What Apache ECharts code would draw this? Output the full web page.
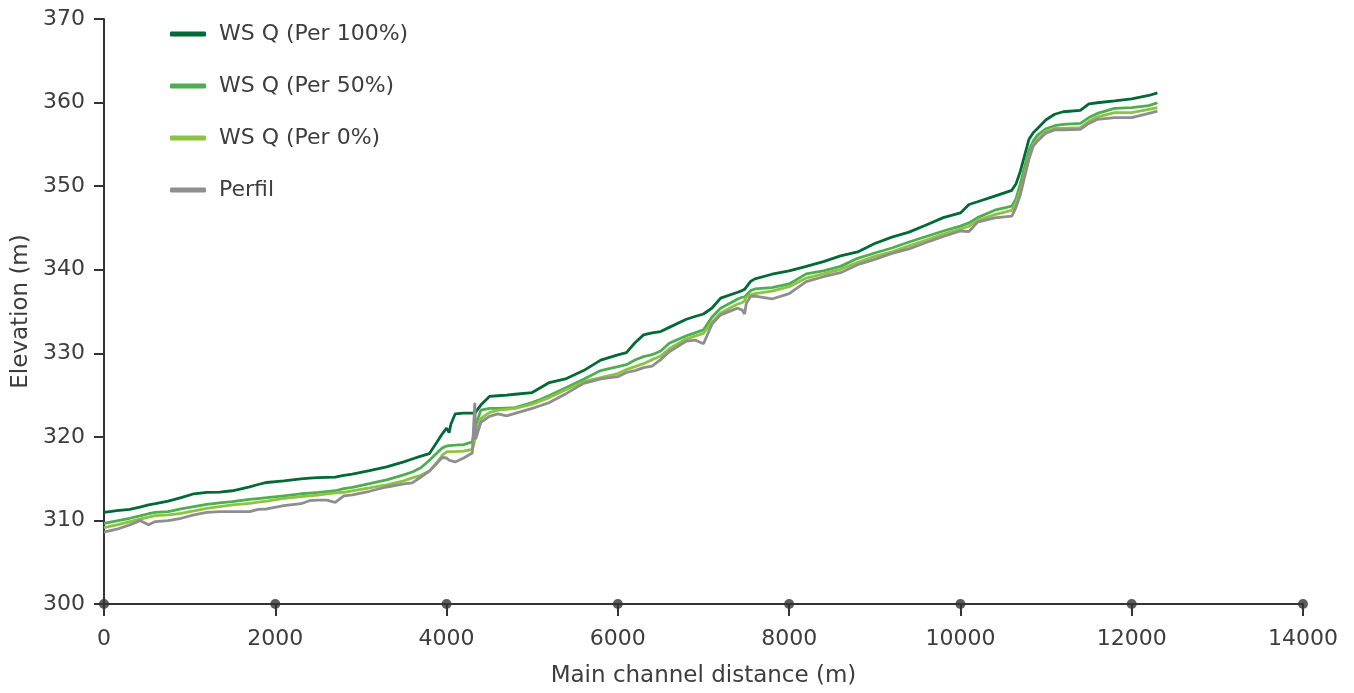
<!DOCTYPE html>
<html>
<head>
<meta charset="utf-8">
<title>Water surface profiles</title>
<script src="https://cdn.jsdelivr.net/npm/echarts@6/dist/echarts.min.js"></script>
<style>
  html, body { margin: 0; padding: 0; background: #ffffff; overflow: hidden; }
  #chart { width: 1354px; height: 693px; }
</style>
</head>
<body>
<div id="chart"></div>
<script>
// Distance along the main channel (m)
const distance = [0, 150, 300, 420, 520, 600, 750, 900, 1050, 1200,
  1350, 1500, 1700, 1800, 1900, 2100, 2300, 2400, 2500, 2600,
  2700, 2800, 2900, 3100, 3300, 3500, 3600, 3700, 3800, 3900,
  3950, 4000, 4030, 4050, 4100, 4200, 4300, 4320, 4330, 4340,
  4400, 4500, 4600, 4700, 4800, 5000, 5100, 5200, 5400, 5600,
  5800, 6000, 6100, 6200, 6300, 6400, 6500, 6600, 6800, 6900,
  7000, 7100, 7200, 7400, 7450, 7480, 7500, 7550, 7600, 7800,
  8000, 8200, 8400, 8600, 8800, 9000, 9200, 9400, 9600, 9800,
  10000, 10100, 10200, 10400, 10600, 10650, 10700, 10800, 10850, 10900,
  11000, 11100, 11200, 11400, 11500, 11600, 11800, 12000, 12200, 12300];

// Water surface elevation, Q per 100% (m)
const wsPer100 = [310.97, 311.17, 311.33, 311.6, 311.85, 312.0, 312.32, 312.72, 313.19, 313.35,
  313.39, 313.55, 314.02, 314.3, 314.54, 314.74, 314.97, 315.05, 315.13, 315.16,
  315.18, 315.4, 315.55, 315.95, 316.4, 317.0, 317.35, 317.7, 318.0, 319.57,
  320.36, 321.04, 320.5, 321.5, 322.74, 322.85, 322.85, 322.85, 322.85, 322.9,
  323.8, 324.84, 324.92, 325.0, 325.1, 325.3, 325.9, 326.5, 326.98, 327.93,
  329.18, 329.8, 330.07, 331.26, 332.2, 332.45, 332.6, 333.1, 334.07, 334.4,
  334.7, 335.42, 336.6, 337.3, 337.5, 337.65, 337.8, 338.6, 338.9, 339.46,
  339.87, 340.4, 340.97, 341.66, 342.13, 343.14, 343.9, 344.5, 345.35, 346.23,
  346.8, 347.8, 348.13, 348.8, 349.5, 350.3, 351.8, 355.6, 356.4, 356.9,
  357.94, 358.6, 358.9, 359.07, 359.84, 359.98, 360.2, 360.43, 360.85, 361.17];

// Water surface elevation, Q per 50% (m)
const wsPer50 = [309.66, 309.95, 310.26, 310.55, 310.8, 310.97, 311.05, 311.37, 311.65, 311.92,
  312.09, 312.24, 312.52, 312.62, 312.72, 312.95, 313.19, 313.27, 313.35, 313.45,
  313.55, 313.8, 313.96, 314.4, 314.86, 315.45, 315.8, 316.3, 317.2, 318.2,
  318.66, 318.9, 318.95, 318.97, 319.0, 319.08, 319.4, 320.4, 320.9, 321.4,
  323.2, 323.4, 323.4, 323.45, 323.5, 324.1, 324.5, 324.96, 325.9, 326.9,
  327.93, 328.4, 328.64, 329.2, 329.6, 329.83, 330.27, 331.2, 332.1, 332.45,
  332.8, 334.35, 335.4, 336.5, 336.7, 336.75, 336.8, 337.5, 337.7, 337.85,
  338.3, 339.5, 339.87, 340.4, 341.36, 342.0, 342.6, 343.32, 343.97, 344.63,
  345.22, 345.6, 346.23, 347.12, 347.6, 348.5, 350.3, 354.3, 355.38, 356.1,
  356.87, 357.23, 357.4, 357.5, 358.2, 358.7, 359.3, 359.4, 359.63, 359.98];

// Water surface elevation, Q per 0% (m)
const wsPer0 = [309.15, 309.47, 309.86, 310.15, 310.4, 310.58, 310.66, 310.85, 311.14, 311.45,
  311.65, 311.85, 312.04, 312.2, 312.32, 312.64, 312.84, 312.94, 313.04, 313.18,
  313.31, 313.37, 313.55, 313.9, 314.26, 314.74, 315.1, 315.4, 315.9, 317.1,
  317.8, 318.2, 318.22, 318.23, 318.24, 318.3, 318.5, 319.1, 319.85, 320.4,
  322.2, 322.9, 323.2, 323.3, 323.4, 323.9, 324.3, 324.7, 325.67, 326.6,
  327.1, 327.57, 328.05, 328.4, 328.76, 329.24, 329.68, 330.54, 331.73, 332.05,
  332.39, 333.75, 334.82, 335.9, 336.05, 336.3, 336.7, 337.0, 337.14, 337.44,
  337.97, 339.0, 339.5, 340.05, 340.88, 341.6, 342.13, 342.85, 343.56, 344.25,
  344.87, 345.2, 345.9, 346.6, 347.1, 348.0, 349.5, 353.5, 355.0, 355.6,
  356.6, 356.9, 356.9, 357.0, 357.76, 358.3, 358.8, 358.8, 359.2, 359.39];

// Channel bed profile (m)
const perfil = [308.59, 308.95, 309.47, 309.98, 309.47, 309.86, 309.98, 310.26, 310.66, 310.97,
  311.05, 311.05, 311.05, 311.33, 311.37, 311.77, 312.0, 312.36, 312.44, 312.44,
  312.16, 312.95, 313.07, 313.49, 314.0, 314.38, 314.5, 315.2, 315.9, 317.0,
  317.53, 317.47, 317.2, 317.0, 317.0, 317.47, 318.06, 318.2, 324.07, 319.73,
  321.75, 322.46, 322.76, 322.52, 322.8, 323.4, 323.75, 324.1, 325.2, 326.4,
  326.95, 327.2, 327.7, 327.93, 328.29, 328.46, 329.24, 330.19, 331.46, 331.58,
  331.14, 333.5, 334.6, 335.4, 335.17, 334.7, 336.0, 336.8, 336.85, 336.5,
  337.14, 338.57, 339.16, 339.64, 340.6, 341.24, 341.95, 342.5, 343.26, 343.97,
  344.63, 344.57, 345.7, 346.2, 346.4, 347.5, 349.0, 353.24, 354.8, 355.4,
  356.35, 356.73, 356.73, 356.8, 357.5, 358.0, 358.2, 358.2, 358.7, 358.98];

// Tick positions on the distance axis, marked with dots
const xTicks = [0, 2000, 4000, 6000, 8000, 10000, 12000, 14000];

const seriesNames = ['WS Q (Per 100%)', 'WS Q (Per 50%)', 'WS Q (Per 0%)', 'Perfil'];
const seriesColors = ['#006a36', '#4cae4f', '#8cc341', '#8e8e8e'];
const seriesValues = [wsPer100, wsPer50, wsPer0, perfil];

const FONT = '"DejaVu Sans", "Noto Sans", sans-serif';
const TEXT = '#3d3d3d';
const AXIS = '#333333';

const lineSeries = seriesNames.map((name, i) => ({
  name: name,
  type: 'line',
  data: distance.map((d, k) => [d, seriesValues[i][k]]),
  showSymbol: false,
  symbol: 'none',
  lineStyle: { color: seriesColors[i], width: 2.8 },
  itemStyle: { color: seriesColors[i] },
  z: 3 + i
}));

const chart = echarts.init(document.getElementById('chart'), null, {
  renderer: 'canvas', width: 1354, height: 693
});

chart.setOption({
  animation: false,
  backgroundColor: '#ffffff',
  grid: { left: 104, top: 19, width: 1199, height: 589, containLabel: false },
  legend: {
    data: seriesNames,
    orient: 'vertical',
    left: 170,
    top: 23,
    icon: 'roundRect',
    itemWidth: 36,
    itemHeight: 5,
    itemGap: 30,
    textStyle: { fontFamily: FONT, fontSize: 22, color: TEXT, padding: [0, 0, 0, 8] },
    padding: 0
  },
  xAxis: {
    type: 'value',
    min: 0,
    max: 14000,
    interval: 2000,
    name: 'Main channel distance (m)',
    nameLocation: 'middle',
    nameGap: 61,
    nameTextStyle: { fontFamily: FONT, fontSize: 23, color: TEXT },
    axisLine: { show: true, lineStyle: { color: AXIS, width: 2 } },
    axisTick: { show: true, length: 12, lineStyle: { color: AXIS, width: 2 } },
    axisLabel: { fontFamily: FONT, fontSize: 22, color: TEXT, margin: 24,
      formatter: v => String(v) },
    splitLine: { show: false }
  },
  yAxis: {
    type: 'value',
    min: 300,
    max: 370,
    interval: 10,
    name: 'Elevation (m)',
    nameLocation: 'middle',
    nameRotate: 90,
    nameGap: 70,
    nameTextStyle: { fontFamily: FONT, fontSize: 23, color: TEXT },
    axisLine: { show: true, lineStyle: { color: AXIS, width: 2 } },
    axisTick: { show: true, length: 10, lineStyle: { color: AXIS, width: 2 } },
    axisLabel: { fontFamily: FONT, fontSize: 22, color: TEXT, margin: 19,
      formatter: v => String(v) },
    splitLine: { show: false }
  },
  series: lineSeries.concat([{
    name: 'ticks',
    type: 'scatter',
    data: xTicks.map(t => [t, 300]),
    symbol: 'circle',
    symbolSize: 10,
    itemStyle: { color: AXIS },
    clip: false,
    silent: true,
    z: 10
  }])
});
</script>
</body>
</html>
